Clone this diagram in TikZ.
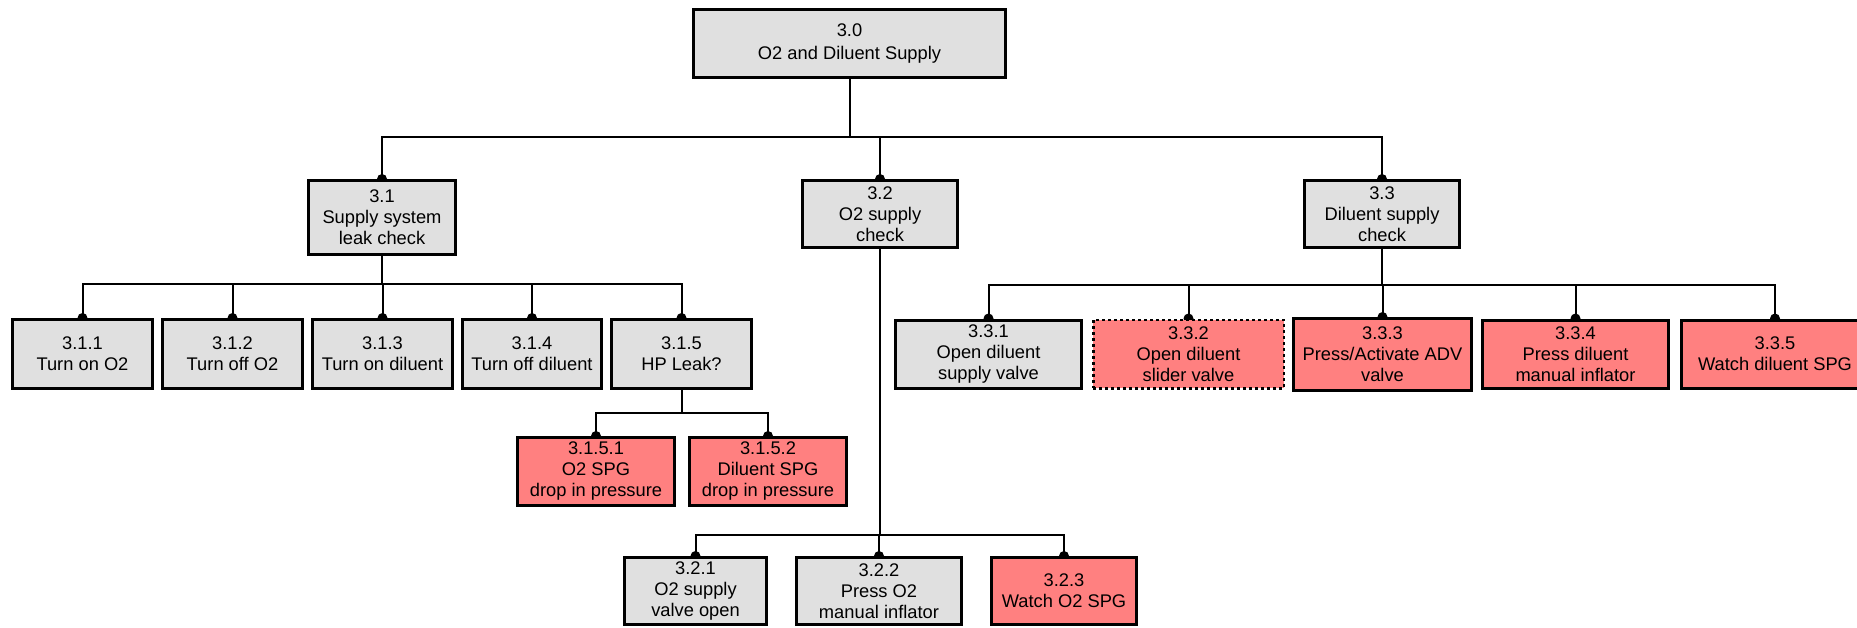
\documentclass[tikz,border=0pt]{standalone}
\usepackage{fontspec}
\setmainfont{Liberation Sans}
\usetikzlibrary{backgrounds}
\definecolor{boxgray}{RGB}{224,224,224}
\definecolor{boxred}{RGB}{255,128,128}
\begin{document}
\begin{tikzpicture}[x=1pt, y=-1pt,
  font=\fontsize{18.3}{21}\selectfont,
  box/.style={draw=black, line width=3pt, inner sep=0pt, align=center, text=black},
  gbox/.style={box, fill=boxgray},
  rbox/.style={box, fill=boxred},
  dotbox/.style={box, fill=boxred, line width=2.5pt, dash pattern=on 2.5pt off 3.5pt},
  conn/.style={line width=2pt, line join=miter},
  tip/.style={fill=black}]
\useasboundingbox (0,0) rectangle (1857,627);
\clip (0,0) rectangle (1857,627);

% level 0
\node[gbox, minimum width=312pt, minimum height=68pt, font=\fontsize{18.3}{22.5}\selectfont] (n30) at (849.5,43.5) {3.0\\O2 and Diluent Supply};

% level 1
\node[gbox, minimum width=147pt, minimum height=74pt] (n31) at (382,217.5) {3.1\\Supply system\\leak check};
\node[gbox, minimum width=155pt, minimum height=67pt] (n32) at (880,214) {3.2\\O2 supply\\check};
\node[gbox, minimum width=155pt, minimum height=67pt] (n33) at (1382,214) {3.3\\Diluent supply\\check};

% children of 3.1
\node[gbox, minimum width=140pt, minimum height=69pt] (n311) at (82.5,354) {3.1.1\\Turn on O2};
\node[gbox, minimum width=140pt, minimum height=69pt] (n312) at (232.5,354) {3.1.2\\Turn off O2};
\node[gbox, minimum width=140pt, minimum height=69pt] (n313) at (382.5,354) {3.1.3\\Turn on diluent};
\node[gbox, minimum width=139pt, minimum height=69pt] (n314) at (532,354) {3.1.4\\Turn off diluent};
\node[gbox, minimum width=140pt, minimum height=69pt] (n315) at (681.5,354) {3.1.5\\HP Leak?};

% children of 3.1.5
\node[rbox, minimum width=157pt, minimum height=68pt] (n3151) at (596,471.5) {3.1.5.1\\O2 SPG\\drop in pressure};
\node[rbox, minimum width=157pt, minimum height=68pt] (n3152) at (768,471.5) {3.1.5.2\\Diluent SPG\\drop in pressure};

% children of 3.2
\node[gbox, minimum width=142pt, minimum height=67pt] (n321) at (695.5,591) {3.2.1\\O2 supply\\valve open};
\node[gbox, minimum width=165pt, minimum height=67pt] (n322) at (879,591) {3.2.2\\Press O2\\manual inflator};
\node[rbox, minimum width=145pt, minimum height=67pt] (n323) at (1064,591) {3.2.3\\Watch O2 SPG};

% children of 3.3
\node[gbox, minimum width=186pt, minimum height=68pt] (n331) at (988.5,354) {3.3.1\\Open diluent\\supply valve};
\node[dotbox, minimum width=190.5pt, minimum height=68.5pt] (n332) at (1188.5,354) {3.3.2\\Open diluent\\slider valve};
\node[rbox, minimum width=178pt, minimum height=72pt] (n333) at (1382.5,354.5) {3.3.3\\Press/Activate ADV\\valve};
\node[rbox, minimum width=186pt, minimum height=68pt] (n334) at (1575.5,354) {3.3.4\\Press diluent\\manual inflator};
\node[rbox, minimum width=187pt, minimum height=68pt] (n335) at (1775,354) {3.3.5\\Watch diluent SPG};

% bus levels
\coordinate (L0) at (0,137);
\coordinate (L1) at (0,284);
\coordinate (L2) at (0,413);
\coordinate (L3) at (0,535);
\coordinate (L4) at (0,285);

\begin{scope}[on background layer]
  \draw[conn] (n30.south) -- (n30.south |- L0) coordinate (b0);
  \foreach \c in {n31,n32,n33} {
    \draw[conn] (b0) -| (\c.north);
    \fill[tip] (\c.north) circle (5pt);
  }
  \draw[conn] (n31.south) -- (n31.south |- L1) coordinate (b1);
  \foreach \c in {n311,n312,n313,n314,n315} {
    \draw[conn] (b1) -| (\c.north);
    \fill[tip] (\c.north) circle (5pt);
  }
  \draw[conn] (n315.south) -- (n315.south |- L2) coordinate (b2);
  \foreach \c in {n3151,n3152} {
    \draw[conn] (b2) -| (\c.north);
    \fill[tip] (\c.north) circle (5pt);
  }
  \draw[conn] (n32.south) -- (n32.south |- L3) coordinate (b3);
  \foreach \c in {n321,n322,n323} {
    \draw[conn] (b3) -| (\c.north);
    \fill[tip] (\c.north) circle (5pt);
  }
  \draw[conn] (n33.south) -- (n33.south |- L4) coordinate (b4);
  \foreach \c in {n331,n332,n333,n334,n335} {
    \draw[conn] (b4) -| (\c.north);
    \fill[tip] (\c.north) circle (5pt);
  }
\end{scope}
\end{tikzpicture}
\end{document}
